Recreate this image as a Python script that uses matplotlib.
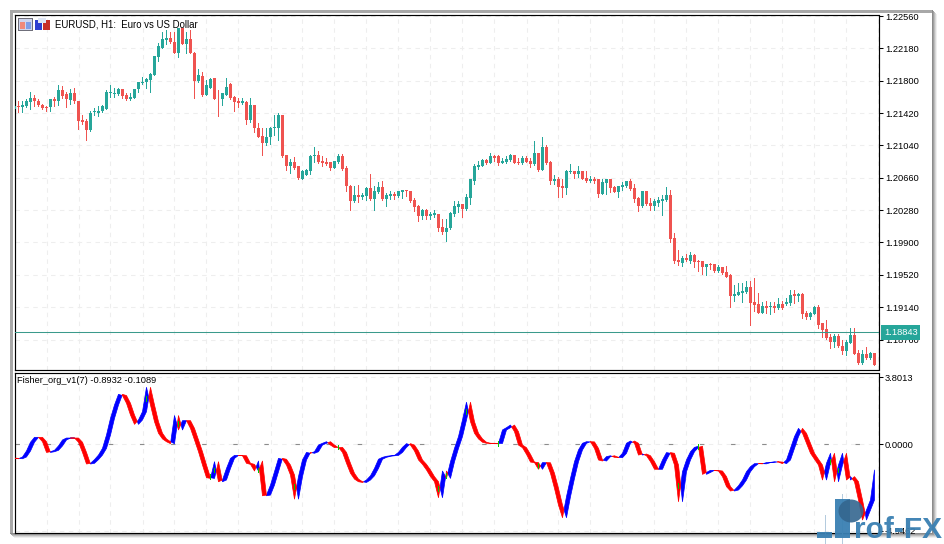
import numpy as np
import matplotlib
matplotlib.use("Agg")
import matplotlib.pyplot as plt
from matplotlib.patches import Rectangle, Ellipse

TITLE = "EURUSD, H1:  Euro vs US Dollar"
SUBTITLE = "Fisher_org_v1(7) -0.8932 -0.1089"
PRICE_TICKS = [1.22560, 1.22180, 1.21800, 1.21420, 1.21040, 1.20660, 1.20280,
               1.19900, 1.19520, 1.19140, 1.18760]
LAST_PRICE = 1.18843
FISHER_TICKS = [3.8013, 0.0, -4.9462]

# EURUSD H1 candles, in 1/10000 of a price unit
OPEN = [12147,12150,12149,12150,12155,12160,12156,12152,12149,12149,
12158,12156,12169,12164,12157,12165,12156,12134,12133,12122,
12143,12142,12145,12147,12166,12164,12164,12170,12163,12158,
12160,12170,12177,12178,12181,12187,12208,12219,12228,12230,
12226,12212,12242,12223,12229,12213,12180,12186,12163,12172,
12183,12159,12158,12163,12176,12161,12156,12154,12155,12134,
12151,12125,12115,12107,12114,12124,12125,12140,12093,12080,
12085,12080,12065,12069,12074,12091,12093,12086,12085,12084,
12078,12085,12092,12078,12056,12039,12046,12043,12045,12054,
12041,12049,12055,12041,12045,12047,12045,12049,12052,12051,
12040,12033,12021,12028,12021,12022,12024,12008,12002,12007,
12024,12032,12035,12029,12042,12062,12079,12080,12087,12083,
12091,12091,12083,12085,12087,12093,12085,12083,12089,12086,
12082,12095,12075,12102,12085,12062,12065,12056,12054,12073,
12074,12071,12074,12066,12062,12064,12064,12047,12060,12064,
12055,12049,12055,12056,12062,12054,12042,12033,12050,12036,
12033,12036,12039,12040,12046,11995,11969,11966,11972,11968,
11975,11968,11968,11961,11965,11965,11956,11961,11955,11952,
11927,11928,11931,11932,11938,11920,11918,11907,11915,11914,
11915,11913,11918,11918,11919,11929,11927,11929,11907,11902,
11906,11914,11895,11888,11879,11873,11880,11869,11862,11872,
11881,11860,11849,11859,11854,11860]

HIGH = [12151,12156,12156,12158,12167,12163,12158,12153,12150,12159,
12161,12175,12174,12167,12170,12172,12156,12140,12135,12144,
12148,12150,12152,12169,12175,12172,12172,12170,12165,12165,
12170,12179,12184,12183,12189,12209,12224,12237,12239,12237,
12237,12242,12242,12237,12239,12214,12194,12190,12181,12183,
12183,12169,12165,12183,12177,12162,12160,12160,12156,12160,
12152,12130,12124,12124,12126,12140,12142,12140,12093,12088,
12090,12080,12075,12076,12093,12102,12097,12091,12089,12085,
12086,12094,12094,12080,12058,12056,12058,12048,12055,12071,
12056,12061,12062,12048,12051,12049,12051,12052,12052,12051,
12042,12034,12029,12029,12026,12028,12024,12018,12017,12026,
12039,12039,12035,12047,12065,12082,12086,12088,12088,12095,
12093,12093,12089,12091,12094,12093,12089,12091,12091,12089,
12109,12095,12114,12105,12086,12069,12067,12064,12075,12082,
12074,12080,12074,12074,12068,12067,12065,12064,12064,12065,
12056,12056,12061,12062,12064,12059,12044,12050,12050,12042,
12041,12043,12046,12055,12052,12001,11981,11974,11976,11979,
11976,11970,11968,11965,11966,11965,11963,11961,11962,11953,
11940,11943,11943,11945,11945,11948,11931,11920,11921,11920,
11920,11925,11921,11925,11934,11934,11931,11931,11909,11908,
11915,11916,11895,11899,11882,11882,11882,11875,11875,11889,
11889,11864,11864,11867,11861,11860]

LOW = [12146,12143,12143,12149,12147,12150,12150,12147,12145,12144,
12150,12152,12160,12149,12153,12154,12123,12129,12110,12121,
12140,12139,12143,12147,12161,12161,12163,12160,12157,12157,
12160,12167,12176,12172,12167,12187,12203,12218,12223,12224,
12212,12208,12223,12212,12212,12160,12179,12162,12163,12172,
12158,12138,12151,12163,12159,12145,12149,12153,12129,12132,
12120,12114,12093,12104,12106,12116,12110,12090,12075,12072,
12076,12065,12064,12069,12071,12085,12083,12080,12081,12075,
12078,12083,12075,12051,12028,12038,12038,12041,12040,12040,
12028,12048,12040,12033,12041,12041,12043,12042,12045,12038,
12027,12015,12018,12018,12017,12020,12004,12000,11992,12006,
12021,12026,12020,12028,12035,12059,12076,12080,12082,12083,
12086,12081,12083,12083,12086,12083,12082,12082,12085,12079,
12081,12074,12075,12082,12059,12059,12044,12044,12047,12072,
12066,12067,12065,12061,12061,12060,12044,12047,12047,12049,
12049,12044,12052,12055,12052,12037,12027,12032,12034,12028,
12028,12033,12022,12039,11990,11966,11963,11962,11968,11966,
11961,11956,11953,11952,11959,11955,11955,11953,11949,11914,
11921,11928,11920,11931,11893,11909,11907,11907,11907,11906,
11908,11912,11912,11916,11916,11919,11921,11901,11900,11900,
11906,11889,11879,11877,11866,11867,11867,11859,11858,11872,
11859,11847,11847,11853,11853,11846]

CLOSE = [12150,12149,12152,12156,12160,12156,12152,12148,12148,12158,
12156,12169,12162,12158,12165,12156,12133,12131,12122,12142,
12144,12145,12150,12167,12167,12166,12170,12162,12158,12161,
12170,12178,12178,12182,12188,12209,12221,12229,12230,12225,
12212,12242,12223,12229,12212,12180,12187,12163,12175,12182,
12158,12158,12165,12173,12160,12155,12154,12156,12134,12151,
12124,12114,12107,12114,12125,12126,12140,12092,12080,12085,
12077,12066,12074,12075,12092,12093,12084,12083,12082,12078,
12086,12092,12076,12056,12039,12046,12044,12046,12054,12041,
12051,12055,12041,12046,12047,12045,12051,12052,12050,12039,
12032,12021,12028,12021,12024,12025,12007,12002,12007,12025,
12033,12035,12029,12044,12064,12080,12081,12087,12083,12091,
12089,12083,12086,12088,12093,12083,12083,12089,12085,12082,
12095,12075,12102,12083,12062,12065,12055,12054,12074,12074,
12071,12074,12065,12062,12064,12062,12047,12061,12064,12054,
12049,12056,12058,12062,12053,12041,12033,12050,12035,12033,
12039,12040,12041,12046,11994,11968,11967,11972,11969,11975,
11967,11967,11961,11965,11963,11956,11961,11954,11950,11927,
11929,11932,11933,11938,11919,11916,11907,11915,11913,11915,
11913,11918,11913,11920,11928,11927,11929,11906,11902,11907,
11914,11893,11887,11878,11873,11880,11868,11862,11873,11881,
11859,11849,11859,11854,11860,11846]

# Fisher indicator value per bar
FISHER = [-0.82,-0.84,-0.74,-0.40,0.10,0.38,0.38,0.13,-0.48,-0.44,
-0.36,-0.11,0.23,0.34,0.34,0.34,0.10,-0.48,-1.14,-1.10,
-0.89,-0.63,-0.25,0.51,1.46,2.22,2.83,2.76,2.32,1.65,
1.12,1.37,1.84,3.23,2.22,1.27,0.61,0.29,0.13,0.02,
1.62,0.80,1.33,1.33,0.89,0.23,-0.44,-1.20,-1.92,-1.96,
-1.01,-2.15,-2.05,-1.39,-0.82,-0.65,-0.65,-0.67,-1.10,-1.16,
-1.54,-0.97,-2.95,-2.91,-2.34,-1.58,-0.82,-0.87,-1.20,-1.77,
-3.14,-1.86,-0.91,-0.48,-0.53,-0.44,-0.06,0.04,0.13,-0.06,
-0.21,-0.19,-0.48,-1.10,-1.67,-2.00,-2.15,-2.19,-2.05,-1.81,
-1.39,-0.87,-0.76,-0.70,-0.67,-0.65,-0.48,-0.19,0.02,-0.06,
-0.40,-0.91,-1.16,-1.48,-1.86,-2.15,-3.06,-1.54,-1.96,-1.01,
-0.25,0.42,1.37,2.38,1.27,0.61,0.29,0.10,0.04,0.04,
0.03,0.03,0.80,0.93,1.08,0.70,-0.06,-0.21,-0.59,-1.03,
-1.06,-1.44,-1.06,-1.07,-1.67,-2.53,-3.48,-4.20,-3.00,-1.96,
-1.01,-0.34,0.04,0.13,0.12,-0.25,-0.91,-0.97,-0.72,-0.67,
-0.76,-0.78,-0.53,0.04,0.17,0.04,-0.63,-0.57,-0.67,-1.01,
-1.44,-1.44,-0.91,-0.49,-0.53,-1.20,-3.29,-1.58,-0.91,-0.44,
-0.19,-0.13,-1.73,-1.62,-1.50,-1.51,-1.54,-1.86,-2.43,-2.68,
-2.62,-2.38,-2.05,-1.58,-1.29,-1.12,-1.12,-1.13,-1.06,-1.05,
-1.01,-1.03,-1.12,-0.91,-0.25,0.42,0.89,0.61,0.04,-0.53,
-0.87,-1.20,-2.05,-1.10,-0.53,-2.15,-1.20,-0.53,-2.05,-1.86,
-2.15,-3.19,-4.33,-3.76,-3.19,-1.48]
# small green flecks where the two indicator lines meet
GREEN_BARS = [33, 41, 49, 50, 61, 70, 81, 106, 108, 113, 121, 131, 166, 171, 204, 206]
GREEN_VALUES = [2.60, 1.18, -1.86, -1.48, -1.48, -2.43, -0.17, -2.53, -1.77, 1.84, 0.04, -1.20,
                -2.34, -0.15, -1.01, -1.48]

W, H = 944, 544
FONT = "Liberation Sans"
TEAL, CANDLE_RED = "#26a69a", "#ef5350"
plt.rcParams["font.family"] = FONT


def fx(p):
    return p / W


def fy(p):
    return 1 - p / H


def chrome(x0, y0, x1, y1, color, z=0, alpha=1.0):
    fig.add_artist(Rectangle((fx(x0), fy(y1)), (x1 - x0) / W, (y1 - y0) / H, transform=fig.transFigure,
                             facecolor=color, edgecolor="none", zorder=z, alpha=alpha))


fig = plt.figure(figsize=(W / 100, H / 100), dpi=100, facecolor="white")

# window frame and shadow
chrome(10, 10, 932, 13, "#a8a8a8")
chrome(10, 10, 13, 534, "#a8a8a8")
for k, c in enumerate(["#8c8c8c", "#a0a0a0", "#bdbdbd", "#d8d8d8", "#efefef"]):
    chrome(932 + k, 10 + k, 933 + k, 533 + k, c)
    chrome(10 + k, 533 + k, 933 + k, 534 + k, c)

L, R = 15, 878.5
TOP0, TOP1 = 14.5, 370.2
BOT0, BOT1 = 372.6, 532.5
ax1 = fig.add_axes([fx(L), fy(TOP1), (R - L) / W, (TOP1 - TOP0) / H])
ax2 = fig.add_axes([fx(L), fy(BOT1), (R - L) / W, (BOT1 - BOT0) / H])

n = len(OPEN)
x = np.arange(n)
o, h, l, c = [np.array(a) / 1e4 for a in (OPEN, HIGH, LOW, CLOSE)]
up = c >= o
cols = np.where(up, TEAL, CANDLE_RED)

GRID_X = np.arange(8, n + 1, 8)
for ax in (ax1, ax2):
    ax.set_xlim((L - 14.5) / 4, (R - 14.5) / 4)
    ax.set_xticks(GRID_X)
    ax.tick_params(axis="x", length=0, labelbottom=False)
    ax.yaxis.tick_right()
    ax.tick_params(axis="y", length=3.2, width=0.75, color="black", pad=1.3, labelsize=6.7, labelcolor="black")
    ax.grid(True, color="#eeeeee", lw=0.8, ls=(0, (4, 4)))
    ax.set_axisbelow(True)
    for s in ax.spines.values():
        s.set_linewidth(0.85)
        s.set_color("black")

# price panel: 8.515 px per 0.001
ax1.set_ylim(1.22748 - TOP1 * 0.00011745, 1.22748 - TOP0 * 0.00011745)
ax1.set_yticks(PRICE_TICKS)
ax1.set_yticklabels([f"{t:.5f}" for t in PRICE_TICKS])
# the small x offset keeps the 1 px wick on the middle pixel of the 3 px body after snapping
ax1.vlines(x - 0.05, l, h, colors=cols, lw=0.72, zorder=3, antialiased=False)
ax1.bar(x, np.abs(c - o), bottom=np.minimum(o, c), width=0.75, color=cols, lw=0, zorder=4, antialiased=False)
ax1.axhline(LAST_PRICE, color="#3b9a8c", lw=0.75, zorder=5)
ax1.annotate(f"{LAST_PRICE:.5f}", xy=(1, LAST_PRICE), xycoords=ax1.get_yaxis_transform(),
             xytext=(4.0, 0), textcoords="offset points", va="center", ha="left", color="white",
             fontsize=6.7, annotation_clip=False, zorder=8,
             bbox=dict(boxstyle="square,pad=0.3", fc=TEAL, ec="none"))
ax1.text(0.0465, 0.972, TITLE, transform=ax1.transAxes, fontsize=6.95, va="center", ha="left", color="black", zorder=9)

# indicator panel: 17.55 px per unit
ax2.set_ylim((444 - BOT1) / 17.55, (444 - BOT0) / 17.55)
ax2.set_yticks(FISHER_TICKS)
ax2.set_yticklabels([f"{t:.4f}" for t in FISHER_TICKS])
ax2.axhline(0, color="#8c8c8c", lw=0.8, ls=(0, (4, 24)), zorder=2)
f = np.array(FISHER)
prev = np.r_[f[0] + 0.02, f[:-1]]
ax2.fill_between(x, f, prev, where=f >= prev, interpolate=True, color="#0000ff", lw=0.5, zorder=3)
ax2.fill_between(x, f, prev, where=f <= prev, interpolate=True, color="#ff0000", lw=0.5, zorder=3)
gv = np.array(GREEN_VALUES)
ax2.vlines(np.array(GREEN_BARS) - 0.05, gv - 0.14, gv + 0.14, colors="#00c800", lw=0.72, zorder=4, antialiased=False)
ax2.text(0.0025, 0.95, SUBTITLE, transform=ax2.transAxes, fontsize=6.7, va="center", ha="left", color="black", zorder=9)

# toolbar icons at the top-left
chrome(18, 18, 33, 31, "#6f6f7a", 6)
chrome(19, 19, 32, 30, "#cfd6ef", 6)
chrome(20, 22, 25, 29, "#f08a7a", 6)
chrome(26, 22, 31, 29, "#7f9fe8", 6)
chrome(35, 20, 42, 30, "#2d3fd0", 6)
chrome(43, 20, 50, 30, "#c8302a", 6)
chrome(38, 18, 46, 23, "#dfe6f5", 6)

# watermark
LOGO = "#3a80b2"
chrome(825, 515, 826, 544, "#b4cbde", 10)
chrome(842, 494, 843, 544, "#b4cbde", 10)
chrome(817, 532, 832, 538, LOGO, 10, 0.95)
chrome(835, 499, 850, 538, LOGO, 10, 0.95)
fig.add_artist(Ellipse((fx(851), fy(511)), 25 / W, 23 / H, transform=fig.transFigure,
                       facecolor="#34668f", edgecolor="none", alpha=0.9, zorder=11))
fig.text(fx(854), fy(538), "rof-FX", fontsize=21.5, fontweight="bold", color=LOGO, alpha=0.95,
         ha="left", va="baseline", zorder=12)

fig.savefig("out.png", dpi=100)
